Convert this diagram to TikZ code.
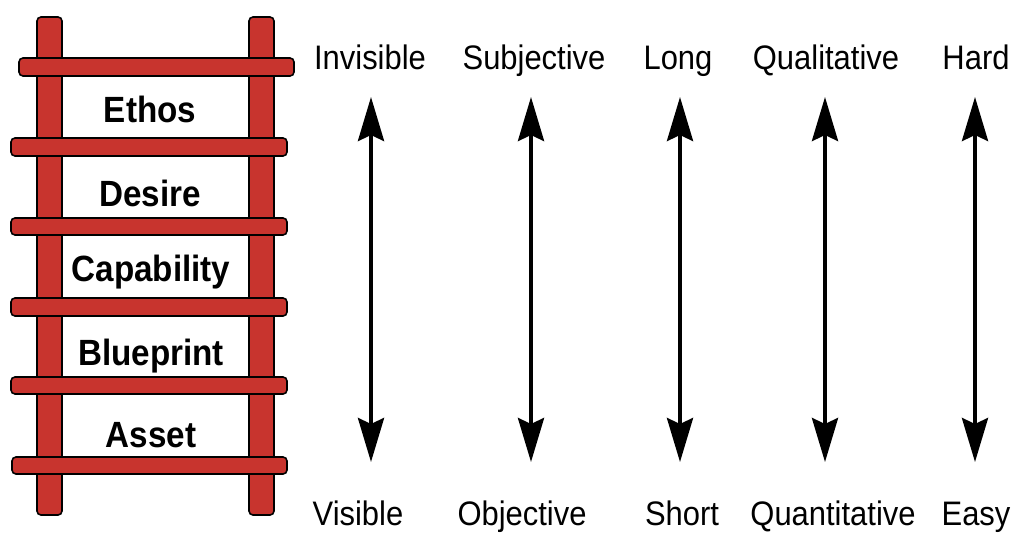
\documentclass[tikz,border=0pt]{standalone}
\usepackage{fontspec}
\setmainfont{Liberation Sans}[FakeStretch=0.91]
\usetikzlibrary{arrows.meta}
\definecolor{ladderred}{RGB}{200,52,46}
\tikzset{
  wood/.style={draw=black, line width=1.6pt, fill=ladderred, rounded corners=4pt},
  steplabel/.style={anchor=base, inner sep=0pt, font=\fontsize{36.5}{42}\selectfont\bfseries},
  polelabel/.style={anchor=base, inner sep=0pt, font=\fontsize{34}{40}\selectfont},
  scalearrow/.style={line width=4pt, {Stealth[length=44pt, width=26pt, inset=6pt]}-{Stealth[length=44pt, width=26pt, inset=6pt]}}
}
\begin{document}
\begin{tikzpicture}[x=1pt, y=-1pt]
\useasboundingbox (0,0) rectangle (1015,533);
% rails
\draw[wood] (37,17) rectangle (62,515);
\draw[wood] (249,17) rectangle (274,515);
% rungs
\draw[wood] (19,58) rectangle (294,76);
\draw[wood] (11,138) rectangle (287,156);
\draw[wood] (11,218) rectangle (287,235);
\draw[wood] (11,298) rectangle (287,316);
\draw[wood] (11,377) rectangle (287,394);
\draw[wood] (12,457) rectangle (287,474);
% step labels
\node[steplabel] (ethos) at (150,122) {Ethos};
\node[steplabel] (desire) at (150,206) {Desire};
\node[steplabel] (capability) at (151,281) {Capability};
\node[steplabel] (blueprint) at (151,365) {Blueprint};
\node[steplabel] (asset) at (151,447) {Asset};
% top labels
\node[polelabel] (invisible) at (370,69) {Invisible};
\node[polelabel] (subjective) at (534,69) {Subjective};
\node[polelabel] (long) at (678,69) {Long};
\node[polelabel] (qualitative) at (826,69) {Qualitative};
\node[polelabel] (hard) at (976,69) {Hard};
% bottom labels
\node[polelabel] (visible) at (358,525) {Visible};
\node[polelabel] (objective) at (522,525) {Objective};
\node[polelabel] (short) at (682,525) {Short};
\node[polelabel] (quantitative) at (833,525) {Quantitative};
\node[polelabel] (easy) at (976,525) {Easy};
% arrow ends
\coordinate (a1t) at (371,97); \coordinate (a1b) at (371,462);
\coordinate (a2t) at (531,97); \coordinate (a2b) at (531,462);
\coordinate (a3t) at (680,97); \coordinate (a3b) at (680,462);
\coordinate (a4t) at (825,97); \coordinate (a4b) at (825,462);
\coordinate (a5t) at (975,97); \coordinate (a5b) at (975,462);
\draw[scalearrow] (a1t) -- (a1b);
\draw[scalearrow] (a2t) -- (a2b);
\draw[scalearrow] (a3t) -- (a3b);
\draw[scalearrow] (a4t) -- (a4b);
\draw[scalearrow] (a5t) -- (a5b);
\end{tikzpicture}
\end{document}
